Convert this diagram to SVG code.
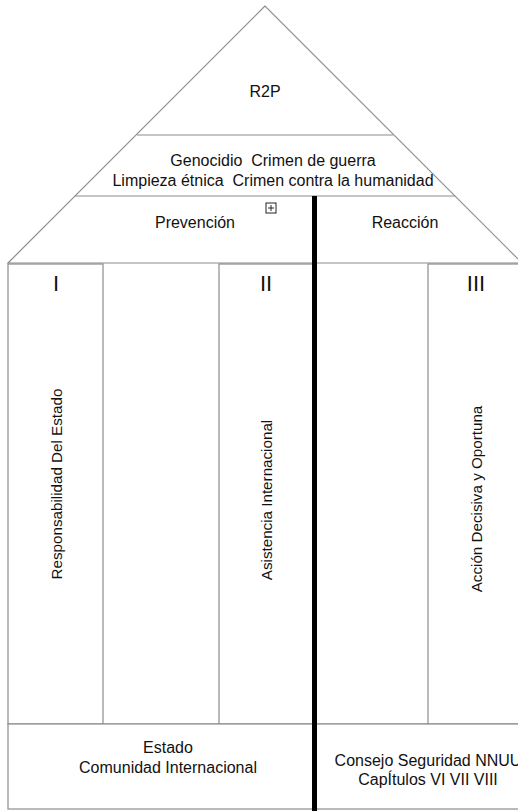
<svg xmlns="http://www.w3.org/2000/svg" width="518" height="811" viewBox="0 0 518 811">
  <style>
    .ln { fill: none; stroke: #8c8c8c; stroke-width: 1.2; }
    .box { fill: #ffffff; stroke: #8c8c8c; stroke-width: 1.2; }
    .t { font-family: "Liberation Sans", Arial, Helvetica, sans-serif; font-size: 16px; fill: #111; text-anchor: middle; white-space: pre; }
    .v { font-size: 15.2px; }
    .num { font-family: "Liberation Sans", Arial, Helvetica, sans-serif; font-size: 22px; fill: #111; text-anchor: middle; }
  </style>
  <rect width="518" height="811" fill="#ffffff"/>

  <!-- Roof -->
  <g id="roof">
    <polygon class="box" points="265,6 8,263 522,263"/>
    <line class="ln" x1="137" y1="135" x2="393" y2="135"/>
    <line class="ln" x1="75" y1="196" x2="455" y2="196"/>
  </g>
  <g id="r2p">
    <text class="t" x="265" y="97">R2P</text>
  </g>
  <g id="crimenes">
    <text class="t" x="273" y="166" xml:space="preserve">Genocidio  Crimen de guerra</text>
    <text class="t" x="273" y="186" xml:space="preserve">Limpieza étnica  Crimen contra la humanidad</text>
  </g>
  <g id="prevencion">
    <text class="t" x="195" y="228">Prevención</text>
    <rect x="266" y="203" width="10" height="10" fill="#ffffff" stroke="#222" stroke-width="1"/>
    <line x1="271" y1="205" x2="271" y2="211" stroke="#222" stroke-width="1"/>
    <line x1="268" y1="208" x2="274" y2="208" stroke="#222" stroke-width="1"/>
  </g>
  <g id="reaccion">
    <text class="t" x="405" y="228">Reacción</text>
  </g>

  <!-- Pillars -->
  <g id="pilar-1">
    <rect class="box" x="8" y="264" width="95" height="460"/>
    <text class="num" x="56" y="291">I</text>
    <text class="t v" transform="translate(62,484) rotate(-90)">Responsabilidad Del Estado</text>
  </g>
  <g id="pilar-2">
    <rect class="box" x="219" y="264" width="94" height="460"/>
    <text class="num" x="266" y="291">II</text>
    <text class="t v" transform="translate(272,500) rotate(-90)">Asistencia Internacional</text>
  </g>
  <g id="pilar-3">
    <rect class="box" x="428" y="264" width="100" height="460"/>
    <text class="num" x="476" y="291">III</text>
    <text class="t v" transform="translate(482,499) rotate(-90)">Acción Decisiva y Oportuna</text>
  </g>
  <g id="hueco">
    <line class="ln" x1="103" y1="724" x2="219" y2="724"/>
    <line class="ln" x1="313" y1="724" x2="428" y2="724"/>
  </g>

  <!-- Foundation -->
  <g id="base-prevencion">
    <rect class="box" x="8" y="724" width="305" height="85"/>
    <text class="t" x="168" y="753">Estado</text>
    <text class="t" x="168" y="773">Comunidad Internacional</text>
  </g>
  <g id="base-reaccion">
    <rect class="box" x="313" y="724" width="215" height="85"/>
    <text class="t" x="428" y="766">Consejo Seguridad NNUU</text>
    <text class="t" x="428" y="785">CapÍtulos VI VII VIII</text>
  </g>

  <!-- Divider -->
  <g id="connectors">
    <line x1="314.5" y1="196" x2="314.5" y2="811" stroke="#000" stroke-width="5"/>
  </g>
</svg>
